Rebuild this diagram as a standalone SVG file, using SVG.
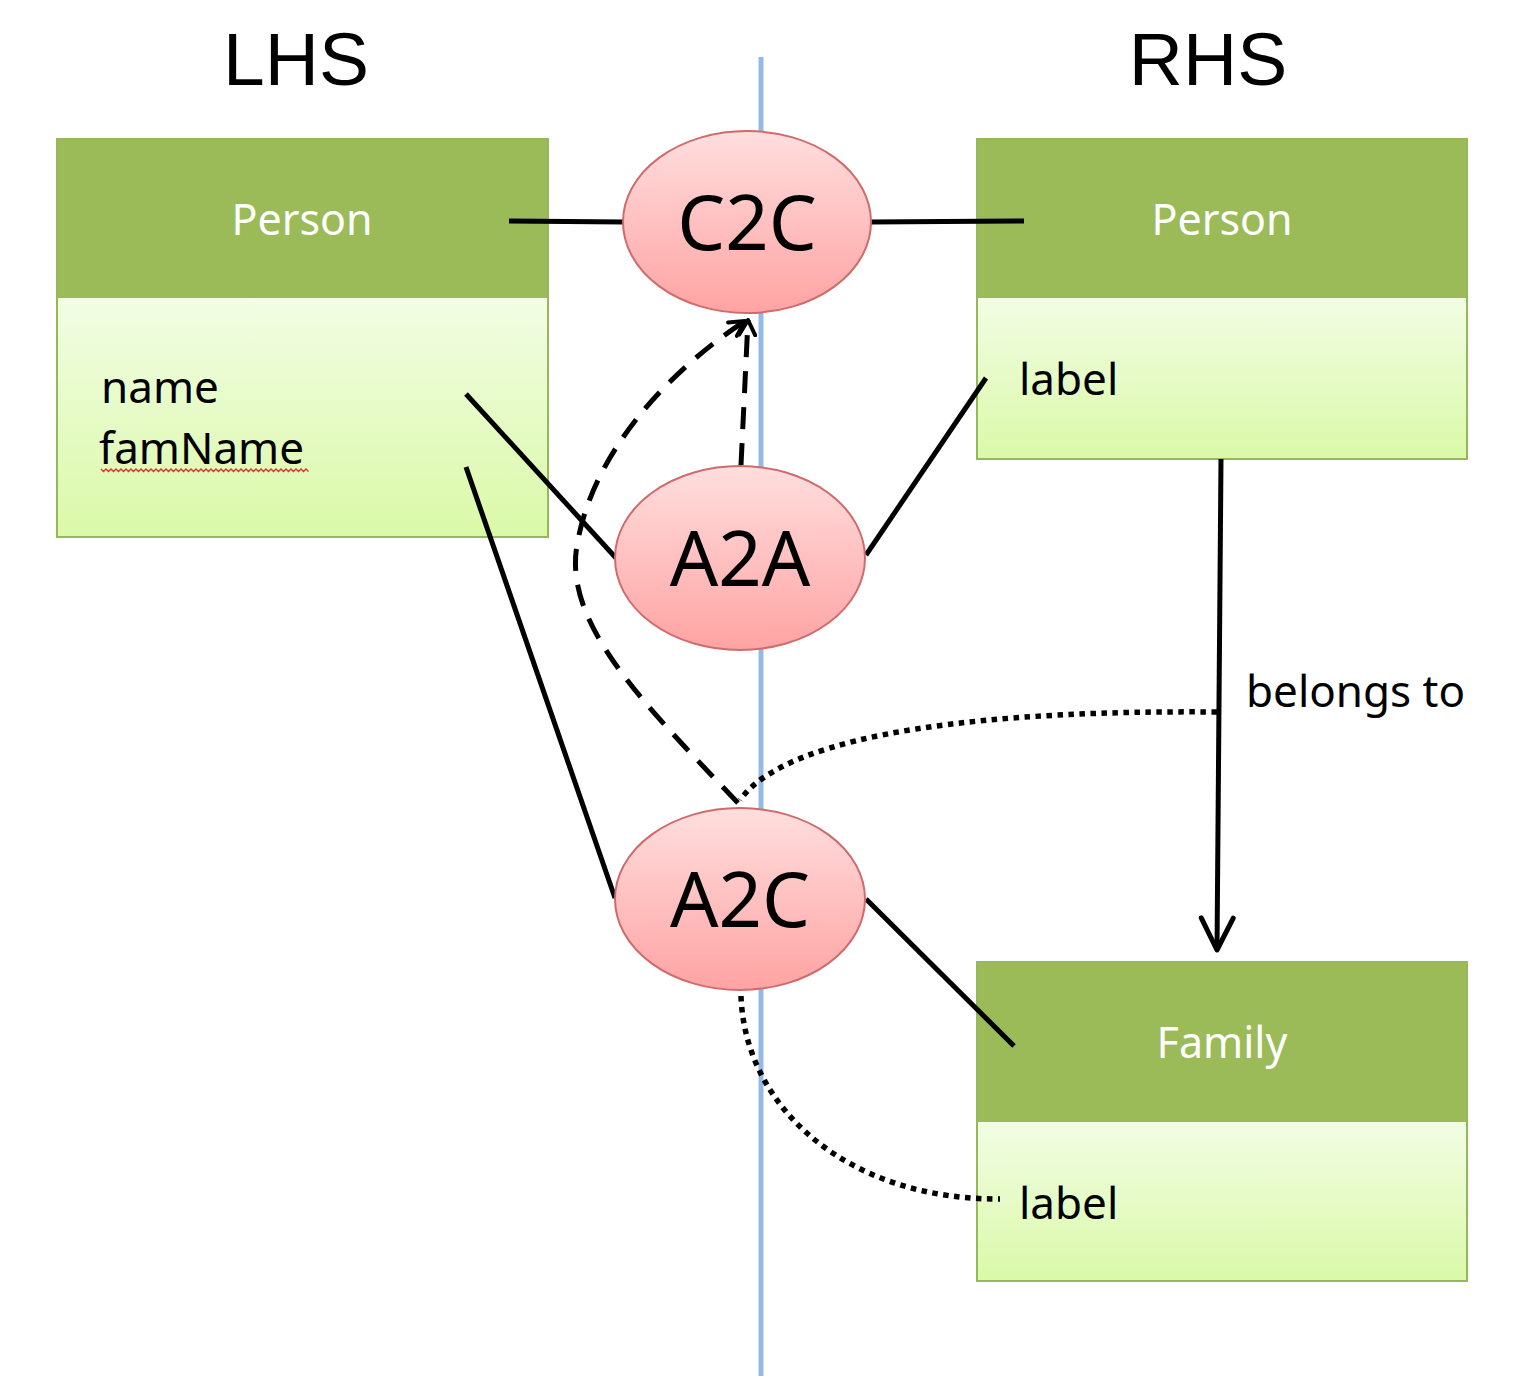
<svg xmlns="http://www.w3.org/2000/svg" width="1515" height="1376" viewBox="0 0 1515 1376">
  <defs>
    <linearGradient id="bodyGrad" x1="0" y1="0" x2="0" y2="1">
      <stop offset="0" stop-color="#f2fde4"/>
      <stop offset="1" stop-color="#daf9a8"/>
    </linearGradient>
    <linearGradient id="ovalGrad" x1="0" y1="0" x2="0" y2="1">
      <stop offset="0" stop-color="#ffdede"/>
      <stop offset="1" stop-color="#ffa3a3"/>
    </linearGradient>
    <marker id="openArrow" viewBox="0 0 20 20" refX="17" refY="10" markerWidth="20" markerHeight="20" markerUnits="userSpaceOnUse" orient="auto">
      <path d="M2,2 L17,10 L2,18" fill="none" stroke="#000" stroke-width="4" stroke-linecap="round" stroke-linejoin="round"/>
    </marker>
    <marker id="vArrow" viewBox="0 0 40 40" refX="36" refY="20" markerWidth="40" markerHeight="40" markerUnits="userSpaceOnUse" orient="auto">
      <path d="M4,4 L36,20 L4,36" fill="none" stroke="#000" stroke-width="5" stroke-linecap="round" stroke-linejoin="round"/>
    </marker>
  </defs>
  <style>
    .title { font-family: "Liberation Sans", Arial, sans-serif; font-size: 75px; fill: #000; text-anchor: middle; }
    .head { fill: #9bbb59; }
    .body { fill: url(#bodyGrad); }
    .frame { fill: none; stroke: #94b85a; stroke-width: 2; }
    .hdrText { font-family: "Noto Sans", "Open Sans", sans-serif; font-size: 43px; fill: #fff; text-anchor: middle; }
    .attr { font-family: "Noto Sans", "Open Sans", sans-serif; font-size: 44px; fill: #000; }
    .oval { fill: url(#ovalGrad); stroke: #cf6b6b; stroke-width: 2; }
    .ovalText { font-family: "Noto Sans", "Open Sans", sans-serif; font-size: 76px; fill: #000; text-anchor: middle; }
    .solid { fill: none; stroke: #000; stroke-width: 5; }
    .dashed { fill: none; stroke: #000; stroke-width: 5; stroke-dasharray: 22 14; }
    .dotted { fill: none; stroke: #000; stroke-width: 5.5; stroke-dasharray: 5.5 5.5; }
  </style>

  <rect width="1515" height="1376" fill="#fff"/>

  <!-- separator between the two sides -->
  <line x1="761" y1="57" x2="761" y2="1376" stroke="#94bbe8" stroke-width="5"/>

  <text class="title" x="296" y="85">LHS</text>
  <text class="title" x="1208" y="85">RHS</text>

  <!-- class boxes -->
  <g id="lhs-person">
    <rect class="head" x="57" y="139" width="491" height="159"/>
    <rect class="body" x="57" y="298" width="491" height="239"/>
    <rect class="frame" x="57" y="139" width="491" height="398"/>
    <text class="hdrText" x="302" y="235">Person</text>
    <text class="attr" x="101" y="403">name</text>
    <text class="attr" x="99" y="464">famName</text>
    <path d="M101,469 l2.5,2.5 l2.5,-2.5 l2.5,2.5 l2.5,-2.5 l2.5,2.5 l2.5,-2.5 l2.5,2.5 l2.5,-2.5 l2.5,2.5 l2.5,-2.5 l2.5,2.5 l2.5,-2.5 l2.5,2.5 l2.5,-2.5 l2.5,2.5 l2.5,-2.5 l2.5,2.5 l2.5,-2.5 l2.5,2.5 l2.5,-2.5 l2.5,2.5 l2.5,-2.5 l2.5,2.5 l2.5,-2.5 l2.5,2.5 l2.5,-2.5 l2.5,2.5 l2.5,-2.5 l2.5,2.5 l2.5,-2.5 l2.5,2.5 l2.5,-2.5 l2.5,2.5 l2.5,-2.5 l2.5,2.5 l2.5,-2.5 l2.5,2.5 l2.5,-2.5 l2.5,2.5 l2.5,-2.5 l2.5,2.5 l2.5,-2.5 l2.5,2.5 l2.5,-2.5 l2.5,2.5 l2.5,-2.5 l2.5,2.5 l2.5,-2.5 l2.5,2.5 l2.5,-2.5 l2.5,2.5 l2.5,-2.5 l2.5,2.5 l2.5,-2.5 l2.5,2.5 l2.5,-2.5 l2.5,2.5 l2.5,-2.5 l2.5,2.5 l2.5,-2.5 l2.5,2.5 l2.5,-2.5 l2.5,2.5 l2.5,-2.5 l2.5,2.5 l2.5,-2.5 l2.5,2.5 l2.5,-2.5 l2.5,2.5 l2.5,-2.5 l2.5,2.5 l2.5,-2.5 l2.5,2.5 l2.5,-2.5 l2.5,2.5 l2.5,-2.5 l2.5,2.5 l2.5,-2.5 l2.5,2.5 l2.5,-2.5 l2.5,2.5 l2.5,-2.5 l2.5,2.5" fill="none" stroke="#e03030" stroke-width="1.3"/>
  </g>

  <g id="rhs-person">
    <rect class="head" x="977" y="139" width="490" height="159"/>
    <rect class="body" x="977" y="298" width="490" height="161"/>
    <rect class="frame" x="977" y="139" width="490" height="320"/>
    <text class="hdrText" x="1222" y="235">Person</text>
    <text class="attr" x="1019" y="395">label</text>
  </g>

  <g id="rhs-family">
    <rect class="head" x="977" y="962" width="490" height="160"/>
    <rect class="body" x="977" y="1122" width="490" height="159"/>
    <rect class="frame" x="977" y="962" width="490" height="319"/>
    <text class="hdrText" x="1222" y="1058">Family</text>
    <text class="attr" x="1019" y="1219">label</text>
  </g>

  <!-- connectors -->
  <g id="connectors">
    <line class="solid" x1="509" y1="221" x2="624" y2="222"/>
    <line class="solid" x1="870" y1="222" x2="1024" y2="221"/>
    <line class="solid" x1="466" y1="394" x2="616" y2="558"/>
    <line class="solid" x1="986" y1="378" x2="866" y2="555"/>
    <line class="solid" x1="466" y1="467" x2="615" y2="898"/>
    <line class="solid" x1="866" y1="899" x2="1014" y2="1046"/>
    <line class="solid" x1="1221" y1="459" x2="1217" y2="950" marker-end="url(#vArrow)"/>
    <path class="dashed" d="M741,465 L748,320" marker-end="url(#openArrow)"/>
    <path class="dashed" d="M738,803 C640,700 560,620 578,540 C595,450 670,370 745,321" marker-end="url(#openArrow)"/>
    <path class="dotted" d="M1217,712 C1000,710 790,730 740,800"/>
    <path class="dotted" d="M741,996 C745,1110 850,1200 1000,1199"/>
    <text class="attr" x="1246" y="707">belongs to</text>
  </g>

  <!-- mapping nodes -->
  <g id="c2c">
    <ellipse class="oval" cx="747" cy="222" rx="124" ry="91"/>
    <text class="ovalText" x="747" y="250">C2C</text>
  </g>
  <g id="a2a">
    <ellipse class="oval" cx="740" cy="558" rx="125" ry="92"/>
    <text class="ovalText" x="740" y="586">A2A</text>
  </g>
  <g id="a2c">
    <ellipse class="oval" cx="740" cy="899" rx="125" ry="91"/>
    <text class="ovalText" x="740" y="927">A2C</text>
  </g>
</svg>
